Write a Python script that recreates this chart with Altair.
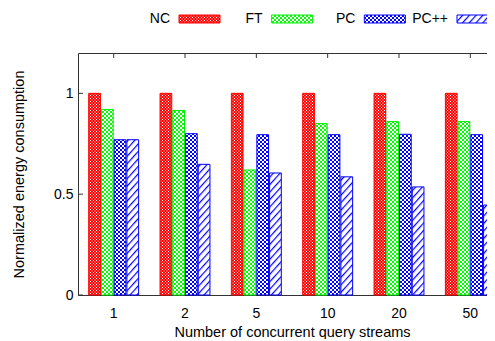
import altair as alt
import pandas as pd

# ---- data ----
categories = ["1", "2", "5", "10", "20", "50"]
series = ["NC", "FT", "PC", "PC++"]
nc_values = [1.0, 1.0, 1.0, 1.0, 1.0, 1.0]
ft_values = [0.92, 0.915, 0.62, 0.85, 0.86, 0.86]
pc_values = [0.77, 0.80, 0.795, 0.795, 0.797, 0.795]
pcpp_values = [0.77, 0.648, 0.605, 0.586, 0.536, 0.446]
y_tick_values = [0, 0.5, 1]

# ---- styles ----
FONT = "Liberation Sans"
fills = ["url(#pNC) #ff6060", "url(#pFT) #80ff80", "url(#pPC) #6060ff", "url(#pPCPP) #e0e0ff"]
strokes = ["#ff0000", "#00ee00", "#0000ff", "#0000ff"]

rows = []
for s, vals in zip(series, [nc_values, ft_values, pc_values, pcpp_values]):
    for c, v in zip(categories, vals):
        rows.append({"category": c, "series": s, "value": v})
df = pd.DataFrame(rows)
legend_df = pd.DataFrame({"series": series})
cat_df = pd.DataFrame({"category": categories})
ytick_df = pd.DataFrame({"value": y_tick_values})

x_scale = alt.Scale(domain=categories, paddingInner=0.3, paddingOuter=0.15)
y_scale = alt.Scale(domain=[0, 1.2], nice=False)
fill_scale = alt.Scale(domain=series, range=fills)
stroke_scale = alt.Scale(domain=series, range=strokes)
legend_scale = alt.Scale(type="point", domain=series, range=[121.5, 399.5], padding=0)

y_axis = alt.Axis(values=y_tick_values, format="~g", title="Normalized energy consumption",
                  ticks=False, domain=False, grid=False, labelPadding=5, titlePadding=27)

bars = alt.Chart(df).mark_bar(strokeWidth=1).encode(
    x=alt.X("category:N", sort=categories, scale=x_scale,
            axis=alt.Axis(title="Number of concurrent query streams", labelAngle=0,
                          ticks=False, domain=False, labelPadding=11, titlePadding=5)),
    xOffset=alt.XOffset("series:N", sort=series,
                        scale=alt.Scale(domain=series, paddingInner=0.08)),
    y=alt.Y("value:Q", scale=y_scale, axis=y_axis),
    fill=alt.Fill("series:N", scale=fill_scale, legend=None),
    stroke=alt.Stroke("series:N", scale=stroke_scale, legend=None),
)

top_ticks = alt.Chart(cat_df).mark_rule(color="#333333", strokeWidth=1).encode(
    x=alt.X("category:N", sort=categories, scale=x_scale, axis=None),
    y=alt.value(0),
    y2=alt.value(5),
)

left_ticks = alt.Chart(ytick_df).mark_rule(color="#333333", strokeWidth=1).encode(
    y=alt.Y("value:Q", scale=y_scale, axis=y_axis),
    x=alt.value(0),
    x2=alt.value(5),
)

legend_swatch = alt.Chart(legend_df).mark_rect(width=41, strokeWidth=1).encode(
    x=alt.X("series:N", sort=series, scale=legend_scale, axis=None),
    y=alt.value(-38),
    y2=alt.value(-30),
    fill=alt.Fill("series:N", scale=fill_scale, legend=None),
    stroke=alt.Stroke("series:N", scale=stroke_scale, legend=None),
)

legend_text = alt.Chart(legend_df).mark_text(
    align="right", baseline="middle", dx=-29.5, fontSize=14, font=FONT, color="#000000"
).encode(
    x=alt.X("series:N", sort=series, scale=legend_scale, axis=None),
    y=alt.value(-34),
    text="series:N",
)

chart = alt.layer(bars, top_ticks, left_ticks, legend_swatch, legend_text).resolve_scale(
    x="independent"
).properties(
    width=428, height=242,
    padding={"left": 3, "top": 4, "right": 0, "bottom": 0},
).configure_view(
    stroke="#333333", strokeWidth=1
).configure_axis(
    labelFont=FONT, titleFont=FONT, labelFontSize=14, titleFontSize=14.5,
    titleFontWeight="normal", labelColor="#000000", titleColor="#000000",
)

DEFS = """<style>body{overflow:hidden;} .vega-embed svg{flex-shrink:0 !important;}</style>
<svg width="0" height="0" style="position:absolute;width:0;height:0;overflow:hidden" aria-hidden="true"><defs>
<pattern id="pNC" width="3" height="3" patternUnits="userSpaceOnUse"><rect width="3" height="3" fill="#ff0000"/><rect width="1" height="1" fill="#ffffff"/><rect x="1.5" y="1.5" width="1" height="1" fill="#ffffff"/></pattern>
<pattern id="pFT" width="4" height="4" patternUnits="userSpaceOnUse"><rect width="4" height="4" fill="#00ff00"/><rect width="2" height="2" fill="#ffffff"/><rect x="2" y="2" width="2" height="2" fill="#ffffff"/></pattern>
<pattern id="pPC" width="4" height="4" patternUnits="userSpaceOnUse"><rect width="4" height="4" fill="#0000ff"/><rect width="2" height="2" fill="#ffffff"/><rect x="2" y="2" width="2" height="2" fill="#ffffff"/></pattern>
<pattern id="pPCPP" width="5" height="5" patternUnits="userSpaceOnUse" patternTransform="rotate(42)"><rect width="5" height="5" fill="#ffffff"/><rect width="1.2" height="5" fill="#0000ff"/></pattern>
</defs></svg>"""


class PatternTemplate:
    def __init__(self, base):
        self.base = base

    def render(self, **kw):
        html = self.base.render(**kw)
        return html.replace("<body>", "<body>" + DEFS, 1)


try:
    from altair.utils.html import TEMPLATES
    chart.save("out.html", embed_options={"renderer": "svg", "actions": False},
               template=PatternTemplate(TEMPLATES["standard"]))
except Exception:
    chart.save("out.html", embed_options={"renderer": "svg", "actions": False})
